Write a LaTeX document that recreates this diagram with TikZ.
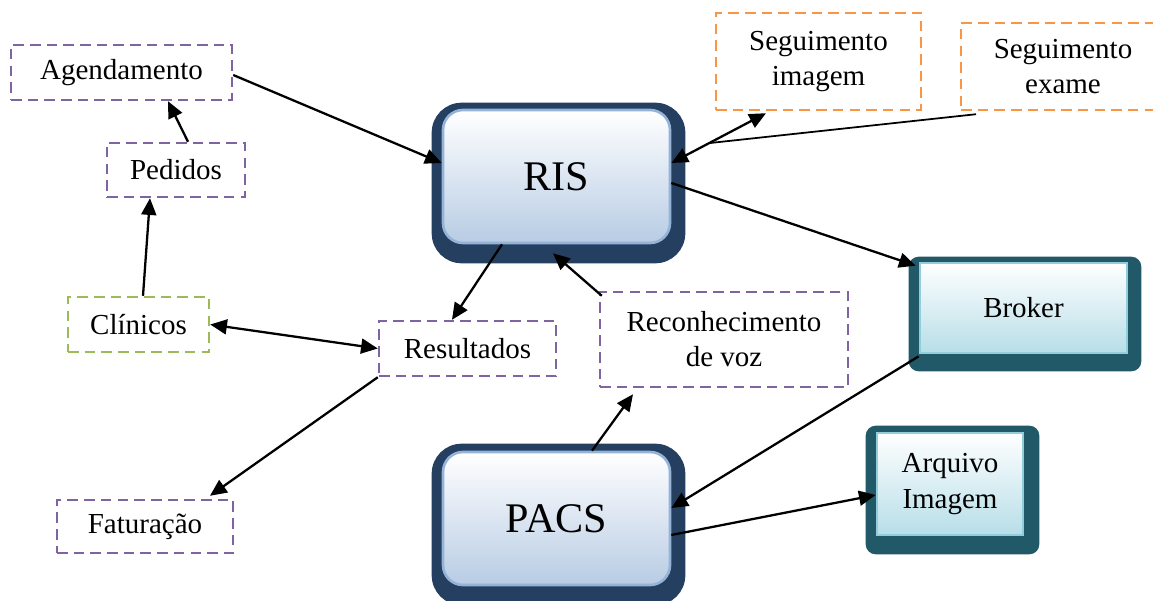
\documentclass[tikz,border=0pt]{standalone}
\usepackage{fontspec}
\setmainfont{Liberation Serif}
\usetikzlibrary{arrows.meta,backgrounds}

\definecolor{dashpurple}{HTML}{8064A2}
\definecolor{dashgreen}{HTML}{9BBB59}
\definecolor{dashorange}{HTML}{F79646}
\definecolor{risframe}{HTML}{243F60}
\definecolor{risedge}{HTML}{95B3D7}
\definecolor{risfill}{HTML}{B8CCE4}
\definecolor{brokerframe}{HTML}{215968}
\definecolor{brokeredge}{HTML}{92CDDC}
\definecolor{brokerfill}{HTML}{B7DEE8}

\begin{document}
\begin{tikzpicture}[
    every node/.style = {font=\fontsize{16.5}{20}\selectfont, align=center},
    dashbox/.style = {draw=#1, dash pattern=on 6pt off 3.5pt, line width=1.4pt, inner sep=0pt},
    bigbox/.style = {draw=risedge, line width=1.5pt, rounded corners=0.4cm, top color=white, bottom color=risfill,
        minimum width=4.54cm, minimum height=2.66cm, font=\fontsize{24}{28}\selectfont},
    smallbox/.style = {draw=brokeredge, line width=1.5pt, top color=white, bottom color=brokerfill},
    link/.style = {-{Triangle[length=9.5pt,width=8.5pt]}, line width=1.3pt},
    twolink/.style = {{Triangle[length=9.5pt,width=8.5pt]}-{Triangle[length=9.5pt,width=8.5pt]}, line width=1.3pt}
]
    \useasboundingbox (0,0) rectangle (23.06,12);

    % Dashed boxes
    \node[dashbox=dashpurple, minimum width=4.42cm, minimum height=1.10cm] (agend) at (2.43,10.55) {Agendamento};
    \node[dashbox=dashpurple, minimum width=2.76cm, minimum height=1.08cm] (pedidos) at (3.52,8.60) {Pedidos};
    \node[dashbox=dashgreen, minimum width=2.82cm, minimum height=1.10cm] (clinicos) at (2.77,5.51) {Clínicos};
    \node[dashbox=dashpurple, minimum width=3.54cm, minimum height=1.10cm] (result) at (9.35,5.03) {Resultados};
    \node[dashbox=dashpurple, minimum width=3.52cm, minimum height=1.06cm] (fatur) at (2.90,1.47) {Faturação};
    \node[dashbox=dashpurple, minimum width=4.96cm, minimum height=1.90cm] (voz) at (14.48,5.21) {Reconhecimento\\de voz};
    \node[dashbox=dashorange, minimum width=4.10cm, minimum height=1.94cm] (segimg) at (16.37,10.77) {Seguimento\\imagem};
    \node[dashbox=dashorange, minimum width=4.08cm, minimum height=1.74cm] (segexame) at (21.26,10.67) {Seguimento\\exame};

    % Systems
    \node[bigbox] (ris) at (11.13,8.47) {RIS};
    \node[bigbox] (pacs) at (11.13,1.63) {PACS};
    \node[smallbox, minimum width=4.14cm, minimum height=1.80cm] (broker) at (20.47,5.84) {Broker};
    \node[smallbox, minimum width=2.92cm, minimum height=2.04cm] (arquivo) at (19.0,2.32) {Arquivo\\Imagem};

    % Dark frames behind the systems
    \begin{scope}[on background layer]
        \fill[risframe, rounded corners=0.6cm] ([shift={(-0.2,0.12)}]ris.north west) rectangle ([shift={(0.28,-0.38)}]ris.south east);
        \fill[risframe, rounded corners=0.6cm] ([shift={(-0.2,0.14)}]pacs.north west) rectangle ([shift={(0.28,-0.38)}]pacs.south east);
        \fill[brokerframe, rounded corners=0.2cm] ([shift={(-0.2,0.1)}]broker.north west) rectangle ([shift={(0.26,-0.34)}]broker.south east);
        \fill[brokerframe, rounded corners=0.2cm] ([shift={(-0.2,0.12)}]arquivo.north west) rectangle ([shift={(0.3,-0.36)}]arquivo.south east);
    \end{scope}

    % Left side
    \draw[link] ([yshift=-0.05cm]agend.east) -- ([yshift=0.27cm]ris.west);
    \draw[link] ([xshift=0.24cm]pedidos.north) -- ([xshift=0.93cm]agend.south);
    \draw[link] ([xshift=0.09cm]clinicos.north) -- ([xshift=-0.52cm]pedidos.south);
    \draw[twolink] (clinicos.east) -- (result.west);
    \draw[link] ([xshift=-1.09cm]ris.south) -- ([xshift=-0.31cm]result.north);
    \draw[link] (result.south west) -- ([shift={(1.3,0.06)}]fatur.north);

    % Voice recognition
    \draw[link] ([shift={(0.06,-0.1)}]voz.north west) -- ([shift={(-0.07,-0.18)}]ris.south);
    \draw[link] ([xshift=0.71cm]pacs.north) -- ([shift={(-1.82,-0.12)}]voz.south);

    % Right side
    \draw[link] ([yshift=-0.13cm]ris.east) -- ([shift={(-0.06,-0.08)}]broker.north west);
    \draw[link] ([yshift=-0.04cm]broker.south west) -- ([yshift=0.21cm]pacs.east);
    \draw[link] ([yshift=-0.33cm]pacs.east) -- ([yshift=-0.22cm]arquivo.west);

    % Follow-up
    \draw[twolink] ([shift={(-1.05,-0.04)}]segimg.south) -- coordinate[pos=0.6] (segjoin) ([yshift=0.27cm]ris.east);
    \draw[line width=1pt] ([shift={(-1.74,-0.06)}]segexame.south) -- (segjoin);
\end{tikzpicture}
\end{document}
